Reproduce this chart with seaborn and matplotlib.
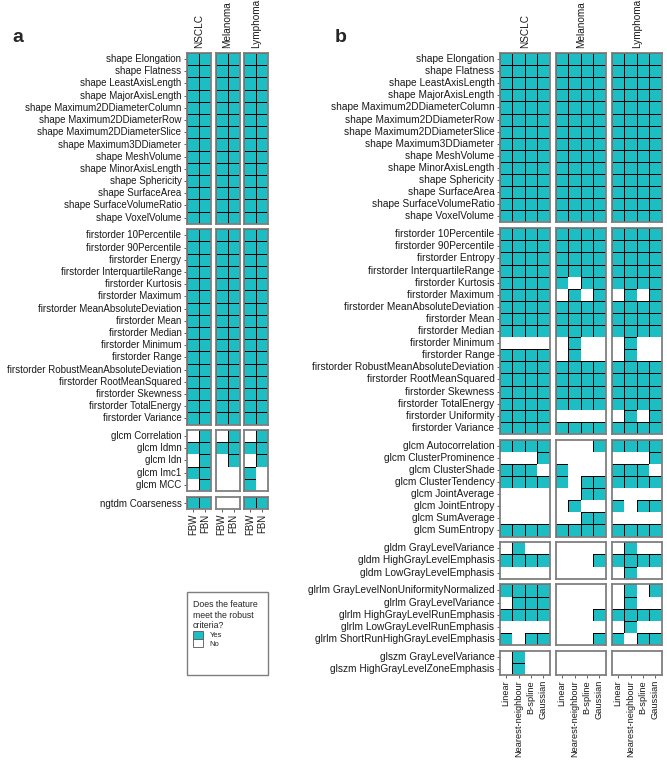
import numpy as np
import matplotlib
matplotlib.use("Agg")
import matplotlib.pyplot as plt
from matplotlib.patches import Patch, Rectangle
import seaborn as sns

sns.set_theme(style="white")
plt.rcParams["font.family"] = ["Liberation Sans", "DejaVu Sans"]

TEAL = "#1CBDC3"
FRAME = "#7f7f7f"
W, H = 667, 761

cancers = ["NSCLC", "Melanoma", "Lymphoma"]
a_methods = ["FBW", "FBN"]
b_methods = ["Linear", "Nearest-neighbour", "B-spline", "Gaussian"]

shape_features = [
    "shape Elongation", "shape Flatness", "shape LeastAxisLength", "shape MajorAxisLength",
    "shape Maximum2DDiameterColumn", "shape Maximum2DDiameterRow", "shape Maximum2DDiameterSlice",
    "shape Maximum3DDiameter", "shape MeshVolume", "shape MinorAxisLength", "shape Sphericity",
    "shape SurfaceArea", "shape SurfaceVolumeRatio", "shape VoxelVolume"]

a_firstorder_features = [
    "firstorder 10Percentile", "firstorder 90Percentile", "firstorder Energy",
    "firstorder InterquartileRange", "firstorder Kurtosis", "firstorder Maximum",
    "firstorder MeanAbsoluteDeviation", "firstorder Mean", "firstorder Median",
    "firstorder Minimum", "firstorder Range", "firstorder RobustMeanAbsoluteDeviation",
    "firstorder RootMeanSquared", "firstorder Skewness", "firstorder TotalEnergy",
    "firstorder Variance"]
a_glcm_features = ["glcm Correlation", "glcm Idmn", "glcm Idn", "glcm Imc1", "glcm MCC"]
a_ngtdm_features = ["ngtdm Coarseness"]

b_firstorder_features = [
    "firstorder 10Percentile", "firstorder 90Percentile", "firstorder Entropy",
    "firstorder InterquartileRange", "firstorder Kurtosis", "firstorder Maximum",
    "firstorder MeanAbsoluteDeviation", "firstorder Mean", "firstorder Median",
    "firstorder Minimum", "firstorder Range", "firstorder RobustMeanAbsoluteDeviation",
    "firstorder RootMeanSquared", "firstorder Skewness", "firstorder TotalEnergy",
    "firstorder Uniformity", "firstorder Variance"]
b_glcm_features = [
    "glcm Autocorrelation", "glcm ClusterProminence", "glcm ClusterShade",
    "glcm ClusterTendency", "glcm JointAverage", "glcm JointEntropy",
    "glcm SumAverage", "glcm SumEntropy"]
b_gldm_features = ["gldm GrayLevelVariance", "gldm HighGrayLevelEmphasis",
                   "gldm LowGrayLevelEmphasis"]
b_glrlm_features = [
    "glrlm GrayLevelNonUniformityNormalized", "glrlm GrayLevelVariance",
    "glrlm HighGrayLevelRunEmphasis", "glrlm LowGrayLevelRunEmphasis",
    "glrlm ShortRunHighGrayLevelEmphasis"]
b_glszm_features = ["glszm GrayLevelVariance", "glszm HighGrayLevelZoneEmphasis"]

# 1 = meets the robust criteria, one string of cells per feature row
a_shape_flags = {
    "NSCLC":    "11 11 11 11 11 11 11 11 11 11 11 11 11 11",
    "Melanoma": "11 11 11 11 11 11 11 11 11 11 11 11 11 11",
    "Lymphoma": "11 11 11 11 11 11 11 11 11 11 11 11 11 11"}
a_firstorder_flags = {
    "NSCLC":    "11 11 11 11 11 11 11 11 11 11 11 11 11 11 11 11",
    "Melanoma": "11 11 11 11 11 11 11 11 11 11 11 11 11 11 11 11",
    "Lymphoma": "11 11 11 11 11 11 11 11 11 11 11 11 11 11 11 11"}
a_glcm_flags = {
    "NSCLC":    "01 11 01 11 01",
    "Melanoma": "01 11 01 00 00",
    "Lymphoma": "01 11 01 10 10"}
a_ngtdm_flags = {"NSCLC": "11", "Melanoma": "00", "Lymphoma": "11"}

b_shape_flags = {
    "NSCLC":    "1111 1111 1111 1111 1111 1111 1111 1111 1111 1111 1111 1111 1111 1111",
    "Melanoma": "1111 1111 1111 1111 1111 1111 1111 1111 1111 1111 1111 1111 1111 1111",
    "Lymphoma": "1111 1111 1111 1111 1111 1111 1111 1111 1111 1111 1111 1111 1111 1111"}
b_firstorder_flags = {
    "NSCLC":    "1111 1111 1111 1111 1111 1111 1111 1111 1111 0000 1111 1111 1111 1111 1111 1111 1111",
    "Melanoma": "1111 1111 1111 1111 1011 0101 1111 1111 1111 0100 0100 1111 1111 1111 1111 0000 1111",
    "Lymphoma": "1111 1111 1111 1111 1111 0101 1111 1111 1111 0100 0100 1111 1111 1111 1111 0101 1111"}
b_glcm_flags = {
    "NSCLC":    "1111 0001 1110 1111 0000 0000 0000 1111",
    "Melanoma": "0001 0000 1000 1011 0011 0100 0011 1111",
    "Lymphoma": "1111 0001 1110 1111 0000 1011 0000 1111"}
b_gldm_flags = {
    "NSCLC":    "0100 1111 0000",
    "Melanoma": "0000 0001 0000",
    "Lymphoma": "0100 1111 0100"}
b_glrlm_flags = {
    "NSCLC":    "1111 0111 1111 0000 1011",
    "Melanoma": "0000 0000 0001 0000 0001",
    "Lymphoma": "0101 0100 1111 0100 1011"}
b_glszm_flags = {
    "NSCLC":    "0100 0100",
    "Melanoma": "0000 0000",
    "Lymphoma": "0000 0000"}


def draw_panel(fig, groups, methods, left, col_w, col_gap, top, row_h, gap, fs, xfs):
    y = top
    for gi, (features, flags) in enumerate(groups):
        n = len(features)
        for ci, cancer in enumerate(cancers):
            x = left + ci * (col_w + col_gap)
            ax = fig.add_axes([x / W, 1 - (y + n * row_h) / H, col_w / W, n * row_h / H])
            grid = np.array([[int(c) for c in row] for row in flags[cancer].split()])
            # only "yes" cells get a black outline
            edges = [(0, 0, 0, 1) if v else (0, 0, 0, 0) for v in grid.ravel()]
            sns.heatmap(grid, ax=ax, cmap=["white", TEAL], vmin=0, vmax=1, cbar=False,
                        linewidths=0.72, linecolor=edges)
            for sp in ax.spines.values():
                sp.set_visible(True)
                sp.set_color(FRAME)
                sp.set_linewidth(1.3)
            if ci == 0:
                ax.set_yticks(np.arange(n) + 0.5)
                ax.set_yticklabels(features, rotation=0, fontsize=fs, color="#1a1a1a")
                ax.tick_params(axis="y", left=True, length=2.5, width=0.6,
                               color="#444444", pad=1.5)
            else:
                ax.set_yticks([])
            if gi == len(groups) - 1:
                ax.set_xticks(np.arange(len(methods)) + 0.5)
                ax.set_xticklabels(methods, rotation=90, fontsize=xfs, color="#1a1a1a")
                ax.tick_params(axis="x", bottom=True, length=2.5, width=0.6,
                               color="#444444", pad=1.2)
            else:
                ax.set_xticks([])
            if gi == 0:
                ax.annotate(cancer, (0.5, 1), xycoords="axes fraction", xytext=(0, 3.5),
                            textcoords="offset points", rotation=90, ha="center",
                            va="bottom", fontsize=7.2, color="#1a1a1a")
        y += n * row_h + gap


fig = plt.figure(figsize=(W / 100, H / 100), dpi=100)

a_groups = [(shape_features, a_shape_flags), (a_firstorder_features, a_firstorder_flags),
            (a_glcm_features, a_glcm_flags), (a_ngtdm_features, a_ngtdm_flags)]
b_groups = [(shape_features, b_shape_flags), (b_firstorder_features, b_firstorder_flags),
            (b_glcm_features, b_glcm_flags), (b_gldm_features, b_gldm_flags),
            (b_glrlm_features, b_glrlm_flags), (b_glszm_features, b_glszm_flags)]

draw_panel(fig, a_groups, a_methods, 187, 24, 4.5, 53, 12.2, 5.5, 7.0, 7.0)
draw_panel(fig, b_groups, b_methods, 500, 49.5, 6.5, 53, 12.1, 5.8, 7.3, 6.7)

fig.text(12 / W, 1 - 38 / H, "a", fontsize=14, fontweight="bold", va="center")
fig.text(335 / W, 1 - 38 / H, "b", fontsize=14, fontweight="bold", va="center")

# legend, with its box drawn separately to get the loose ggplot-like padding
handles = [Patch(facecolor=TEAL, edgecolor="#555555", linewidth=0.6),
           Patch(facecolor="white", edgecolor="#555555", linewidth=0.6)]
leg = fig.legend(handles, ["Yes", "No"], title="Does the feature\nmeet the robust\ncriteria?",
                 loc="upper left", bbox_to_anchor=(193 / W, 1 - 600 / H),
                 borderaxespad=0, borderpad=0, frameon=False,
                 fontsize=5.5, title_fontsize=6.3, alignment="left",
                 handlelength=1.25, handleheight=1.25, labelspacing=0,
                 handletextpad=0.9)
leg.get_title().set_linespacing(1.25)
fig.add_artist(Rectangle((187 / W, 1 - 675 / H), 81 / W, 83 / H, transform=fig.transFigure,
                         fill=False, edgecolor=FRAME, linewidth=1.0))

fig.savefig("out.png", dpi=100)
